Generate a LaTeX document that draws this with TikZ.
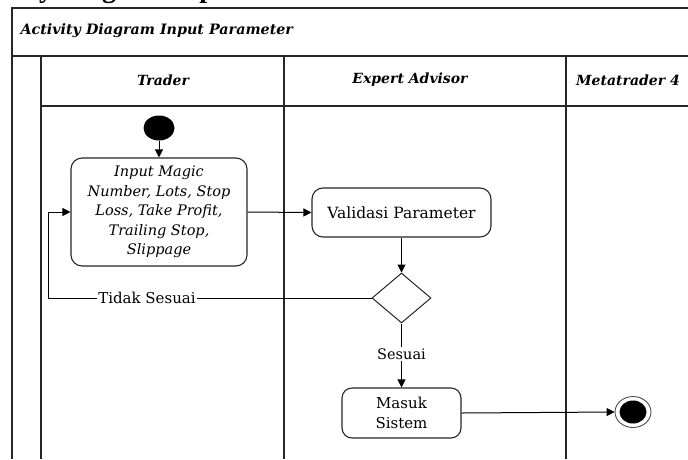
\documentclass[tikz,border=0pt]{standalone}
\usepackage{fontspec}
\setmainfont{DejaVu Serif}
\newfontfamily\headfont{Liberation Serif}
\usetikzlibrary{shapes.geometric,arrows.meta}

\tikzset{
  frame/.style={line width=1.3pt, draw=black!85},
  actbox/.style={draw=black!85, line width=1.1pt, rounded corners=11pt, align=center,
                 inner sep=0pt, font=\fontsize{15}{19.5}\selectfont},
  lanehead/.style={font=\bfseries\itshape\fontsize{14}{16}\selectfont},
  flow/.style={line width=1pt, -{Triangle[length=8pt,width=8pt]}},
  plain/.style={line width=1pt},
  lbl/.style={font=\fontsize{15}{17}\selectfont, inner sep=1pt, fill=white},
}

\begin{document}
\begin{tikzpicture}[x=1pt,y=-1pt]
\useasboundingbox (0,0) rectangle (688,459);

% page heading, only its lower edge falls inside the frame
\begin{scope}
  \clip (0,0) rectangle (688,459);
  \node[anchor=base west, inner sep=0pt, font=\headfont\bfseries\fontsize{28}{30}\selectfont]
    (heading) at (-42,-3) {Activity Diagram Input Parameter};
\end{scope}

% swimlane frame
\draw[frame] (688,8) -- (12,8) -- (12,459);
\draw[frame] (12,56) -- (688,56);
\draw[frame] (41,106) -- (688,106);
\draw[frame] (41,56) -- (41,459);
\draw[frame] (284,56) -- (284,459);
\draw[frame] (566,56) -- (566,459);

\node[anchor=west, font=\bfseries\itshape\fontsize{14.3}{16}\selectfont] (title) at (17,31)
  {Activity Diagram Input Parameter};

\node[lanehead] (laneA) at (163,80) {Trader};
\node[lanehead] (laneB) at (410,80) {Expert Advisor};
\node[lanehead] (laneC) at (628,80) {Metatrader 4};

% activity nodes
\node[ellipse, fill=black, minimum width=31pt, minimum height=25pt, inner sep=0pt] (start) at (159,128) {};

\node[actbox, minimum width=176pt, minimum height=108pt, font=\itshape\fontsize{14.5}{19.5}\selectfont]
  (input) at (159,212)
  {Input Magic\\Number, Lots, Stop\\Loss, Take Profit,\\Trailing Stop,\\Slippage};

\node[actbox, minimum width=179pt, minimum height=49pt, font=\fontsize{15.5}{17}\selectfont]
  (valid) at (401.5,212.5) {Validasi Parameter};

\node[diamond, draw=black!85, line width=1pt, minimum width=59pt, minimum height=50pt, inner sep=0pt]
  (dec) at (401.5,298) {};

\node[actbox, minimum width=119pt, minimum height=50pt, rounded corners=10pt]
  (masuk) at (401.5,413) {Masuk\\Sistem};

\node[ellipse, draw=black!70, line width=0.9pt, minimum width=36pt, minimum height=31pt, inner sep=0pt]
  (stop) at (633,412) {};
\node[ellipse, fill=black, minimum width=27pt, minimum height=23pt, inner sep=0pt]
  (stopcore) at (633,412) {};

% flows
\draw[flow] (start) -- (input.north);
\draw[flow] (input.east) -- (valid.west);
\draw[flow] (valid.south) -- (dec.north);

\node[lbl] (notok) at (147,298) {Tidak Sesuai};
\coordinate (loop) at (48,298);
\draw[plain] (dec.west) -- (notok.east);
\draw[flow] (notok.west) -- (loop) |- (input.west);

\node[lbl, font=\fontsize{14.5}{16}\selectfont] (ok) at (401.5,354) {Sesuai};
\draw[plain] (dec.south) -- (ok.north);
\draw[flow] (ok.south) -- (masuk.north);

\draw[flow] (masuk.east) -- (stop.west);
\end{tikzpicture}
\end{document}
